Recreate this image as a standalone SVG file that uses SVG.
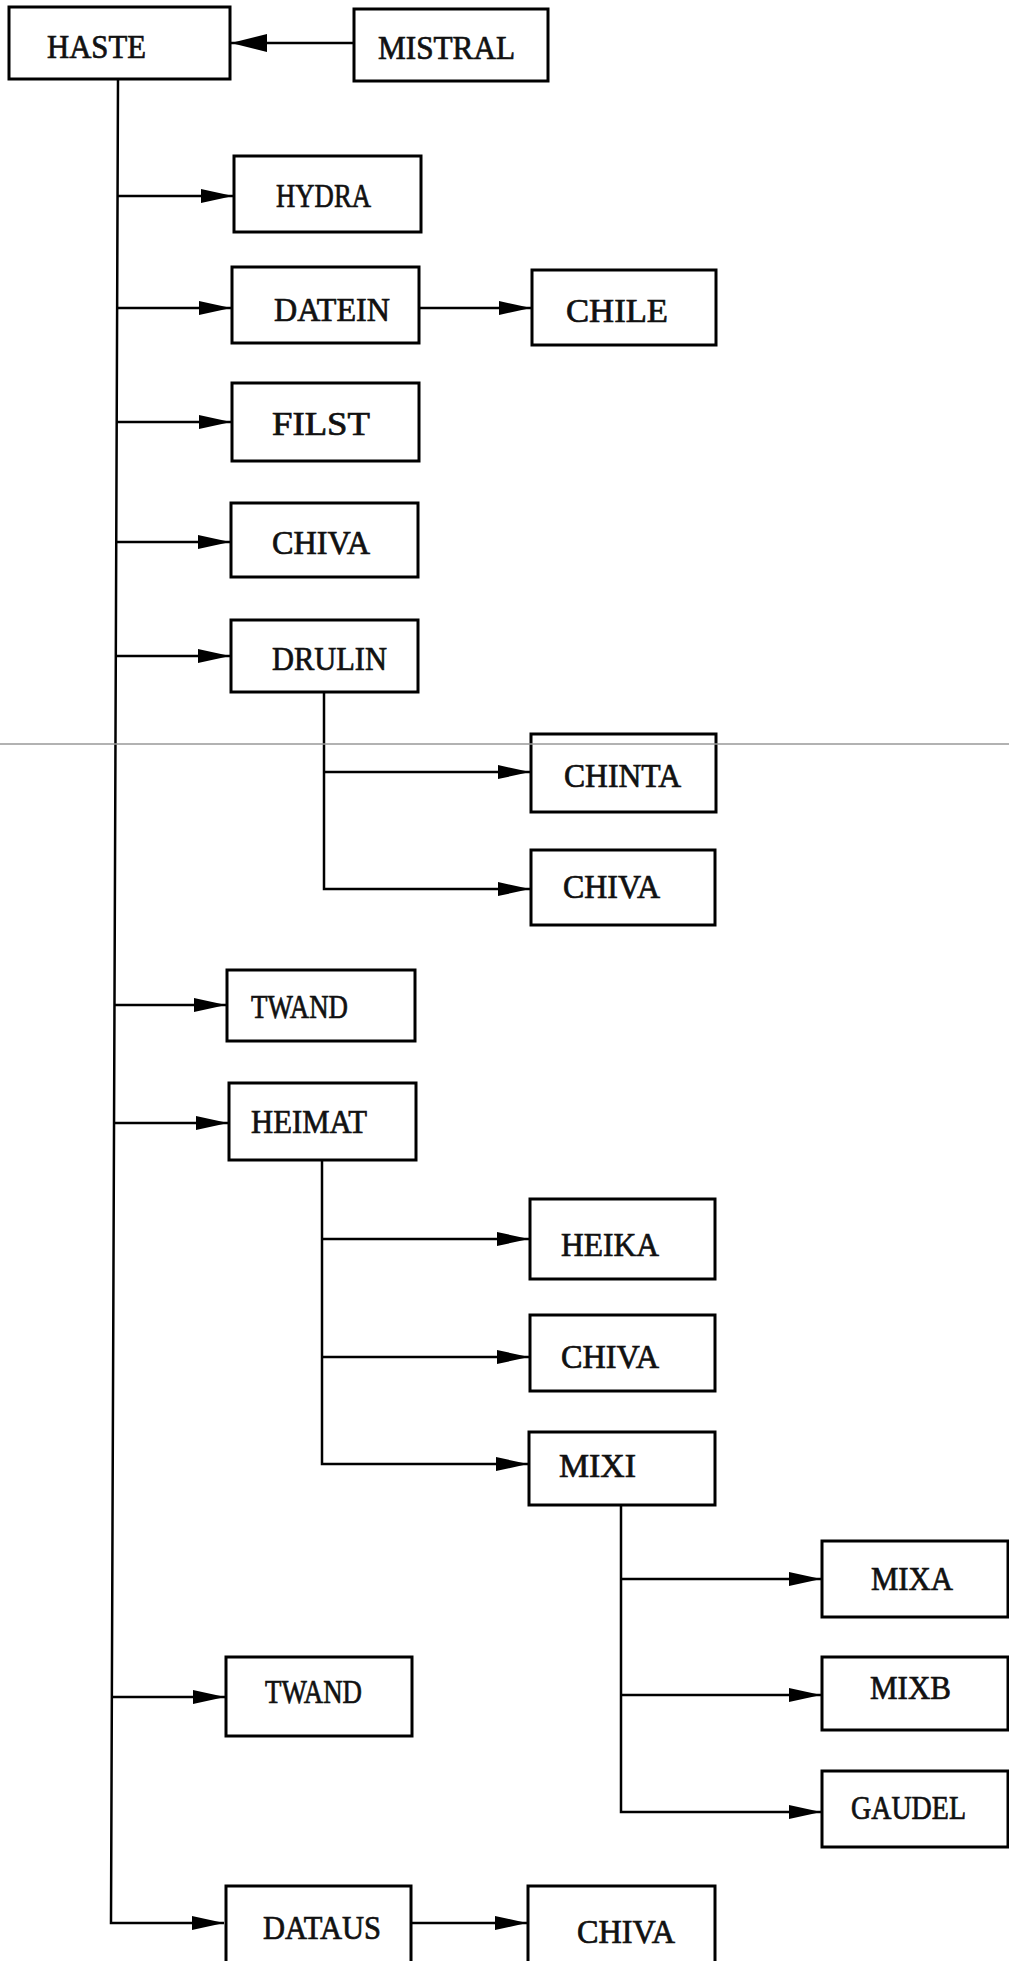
<svg xmlns="http://www.w3.org/2000/svg" width="1009" height="1961" viewBox="0 0 1009 1961">
<style>
.box{fill:#fff;stroke:#000;stroke-width:3}
.lbl{font-family:"Liberation Serif","Times New Roman",serif;font-size:33px;fill:#111;stroke:#111;stroke-width:0.7}
.con{fill:none;stroke:#000;stroke-width:2.5}
</style>
<defs>
<marker id="ah" markerUnits="userSpaceOnUse" markerWidth="32" markerHeight="16" refX="32" refY="8" orient="auto" viewBox="0 0 32 16">
<path d="M0,1 L32,8 L0,15 Z" fill="#000"/>
</marker>
<marker id="ahL" markerUnits="userSpaceOnUse" markerWidth="36" markerHeight="20" refX="36" refY="10" orient="auto" viewBox="0 0 36 20">
<path d="M0,1 L36,10 L0,19 Z" fill="#000"/>
</marker>
</defs>
<rect width="1009" height="1961" fill="#fff"/>
<g id="connectors">
<path class="con" d="M118,79 L111,1923 L224,1923" marker-end="url(#ah)"/>
<path class="con" d="M354,43 L231,43" marker-end="url(#ahL)"/>
<path class="con" d="M117.6,196 L233,196" marker-end="url(#ah)"/>
<path class="con" d="M117,308 L231,308" marker-end="url(#ah)"/>
<path class="con" d="M419,308 L531,308" marker-end="url(#ah)"/>
<path class="con" d="M116.7,422 L231,422" marker-end="url(#ah)"/>
<path class="con" d="M116.2,542 L230,542" marker-end="url(#ah)"/>
<path class="con" d="M115.8,656 L230,656" marker-end="url(#ah)"/>
<path class="con" d="M324,692 L324,889 L530,889" marker-end="url(#ah)"/>
<path class="con" d="M324,772 L530,772" marker-end="url(#ah)"/>
<path class="con" d="M114.5,1005 L226,1005" marker-end="url(#ah)"/>
<path class="con" d="M114,1123 L228,1123" marker-end="url(#ah)"/>
<path class="con" d="M322,1160 L322,1464 L528,1464" marker-end="url(#ah)"/>
<path class="con" d="M322,1239 L529,1239" marker-end="url(#ah)"/>
<path class="con" d="M322,1357 L529,1357" marker-end="url(#ah)"/>
<path class="con" d="M621,1505 L621,1812 L821,1812" marker-end="url(#ah)"/>
<path class="con" d="M621,1579 L821,1579" marker-end="url(#ah)"/>
<path class="con" d="M621,1695 L821,1695" marker-end="url(#ah)"/>
<path class="con" d="M112,1697 L225,1697" marker-end="url(#ah)"/>
<path class="con" d="M411,1923 L527,1923" marker-end="url(#ah)"/>
</g>
<g id="n-haste"><rect class="box" x="9" y="7" width="221" height="72"/><text class="lbl" x="47" y="58" textLength="99" lengthAdjust="spacingAndGlyphs">HASTE</text></g>
<g id="n-mistral"><rect class="box" x="354" y="9" width="194" height="72"/><text class="lbl" x="378" y="59" textLength="137" lengthAdjust="spacingAndGlyphs">MISTRAL</text></g>
<g id="n-hydra"><rect class="box" x="234" y="156" width="187" height="76"/><text class="lbl" x="276" y="207" textLength="95" lengthAdjust="spacingAndGlyphs">HYDRA</text></g>
<g id="n-datein"><rect class="box" x="232" y="267" width="187" height="76"/><text class="lbl" x="274" y="321" textLength="116" lengthAdjust="spacingAndGlyphs">DATEIN</text></g>
<g id="n-chile"><rect class="box" x="532" y="270" width="184" height="75"/><text class="lbl" x="566" y="322" textLength="102" lengthAdjust="spacingAndGlyphs">CHILE</text></g>
<g id="n-filst"><rect class="box" x="232" y="383" width="187" height="78"/><text class="lbl" x="272" y="435" textLength="98" lengthAdjust="spacingAndGlyphs">FILST</text></g>
<g id="n-chiva1"><rect class="box" x="231" y="503" width="187" height="74"/><text class="lbl" x="272" y="554" textLength="98" lengthAdjust="spacingAndGlyphs">CHIVA</text></g>
<g id="n-drulin"><rect class="box" x="231" y="620" width="187" height="72"/><text class="lbl" x="272" y="670" textLength="115" lengthAdjust="spacingAndGlyphs">DRULIN</text></g>
<g id="n-chinta"><rect class="box" x="531" y="734" width="185" height="78"/><text class="lbl" x="564" y="787" textLength="117" lengthAdjust="spacingAndGlyphs">CHINTA</text></g>
<g id="n-chiva2"><rect class="box" x="531" y="850" width="184" height="75"/><text class="lbl" x="563" y="898" textLength="97" lengthAdjust="spacingAndGlyphs">CHIVA</text></g>
<g id="n-twand1"><rect class="box" x="227" y="970" width="188" height="71"/><text class="lbl" x="251" y="1018" textLength="97" lengthAdjust="spacingAndGlyphs">TWAND</text></g>
<g id="n-heimat"><rect class="box" x="229" y="1083" width="187" height="77"/><text class="lbl" x="251" y="1133" textLength="116" lengthAdjust="spacingAndGlyphs">HEIMAT</text></g>
<g id="n-heika"><rect class="box" x="530" y="1199" width="185" height="80"/><text class="lbl" x="561" y="1256" textLength="98" lengthAdjust="spacingAndGlyphs">HEIKA</text></g>
<g id="n-chiva3"><rect class="box" x="530" y="1315" width="185" height="76"/><text class="lbl" x="561" y="1368" textLength="98" lengthAdjust="spacingAndGlyphs">CHIVA</text></g>
<g id="n-mixi"><rect class="box" x="529" y="1432" width="186" height="73"/><text class="lbl" x="559" y="1477" textLength="77" lengthAdjust="spacingAndGlyphs">MIXI</text></g>
<g id="n-mixa"><rect class="box" x="822" y="1541" width="186" height="76"/><text class="lbl" x="871" y="1590" textLength="82" lengthAdjust="spacingAndGlyphs">MIXA</text></g>
<g id="n-mixb"><rect class="box" x="822" y="1657" width="186" height="73"/><text class="lbl" x="870" y="1699" textLength="81" lengthAdjust="spacingAndGlyphs">MIXB</text></g>
<g id="n-gaudel"><rect class="box" x="822" y="1771" width="186" height="76"/><text class="lbl" x="851" y="1819" textLength="115" lengthAdjust="spacingAndGlyphs">GAUDEL</text></g>
<g id="n-twand2"><rect class="box" x="226" y="1657" width="186" height="79"/><text class="lbl" x="265" y="1703" textLength="97" lengthAdjust="spacingAndGlyphs">TWAND</text></g>
<g id="n-dataus"><rect class="box" x="226" y="1886" width="185" height="90"/><text class="lbl" x="263" y="1939" textLength="118" lengthAdjust="spacingAndGlyphs">DATAUS</text></g>
<g id="n-chiva4"><rect class="box" x="528" y="1886" width="187" height="90"/><text class="lbl" x="577" y="1943" textLength="98" lengthAdjust="spacingAndGlyphs">CHIVA</text></g>
<line x1="0" y1="744" x2="1009" y2="744" stroke="#999" stroke-width="1.5"/>
</svg>
